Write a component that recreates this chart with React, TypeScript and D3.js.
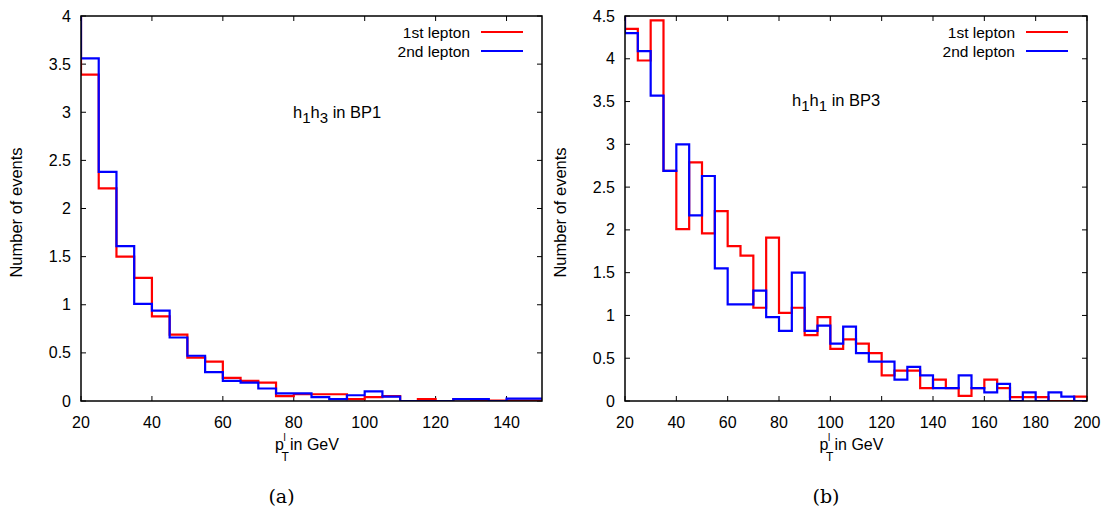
import React from 'react';
import * as d3 from 'd3';

const binWidth = 5;

// panel (a): h1h3 in BP1, bins of 5 GeV starting at 15 GeV (first bin runs off the top)
const leftStart = 15;
const leftLepton1 = [4.6, 3.39, 2.21, 1.5, 1.28, 0.88, 0.69, 0.45, 0.41, 0.24, 0.21, 0.19, 0.05, 0.07, 0.07, 0.07, 0.02, 0.04, 0.05, 0, 0.02, 0, 0.02, 0, 0.005, 0.005, 0.005];
const leftLepton2 = [4.6, 3.56, 2.38, 1.61, 1.01, 0.94, 0.66, 0.47, 0.3, 0.21, 0.19, 0.13, 0.08, 0.08, 0.04, 0.02, 0.06, 0.1, 0.045, 0, 0, 0, 0.02, 0.02, 0, 0.025, 0.025];
const leftXTicks = [20, 40, 60, 80, 100, 120, 140];
const leftYTicks = [0, 0.5, 1, 1.5, 2, 2.5, 3, 3.5, 4];

// panel (b): h1h1 in BP3
const rightStart = 15;
const rightLepton1 = [4.8, 4.35, 3.98, 4.45, 2.69, 2.01, 2.79, 1.96, 2.22, 1.81, 1.7, 1.09, 1.91, 1.03, 1.09, 0.77, 0.98, 0.61, 0.72, 0.67, 0.56, 0.3, 0.355, 0.355, 0.15, 0.25, 0.15, 0.06, 0.15, 0.25, 0.15, 0.045, 0.045, 0.045, 0, 0, 0.05];
const rightLepton2 = [4.8, 4.3, 4.09, 3.57, 2.69, 3.0, 2.17, 2.63, 1.55, 1.13, 1.13, 1.29, 0.98, 0.82, 1.5, 0.82, 0.88, 0.67, 0.87, 0.56, 0.46, 0.46, 0.25, 0.4, 0.3, 0.15, 0.15, 0.3, 0.15, 0.1, 0.2, 0, 0.1, 0, 0.1, 0.05, 0];
const rightXTicks = [20, 40, 60, 80, 100, 120, 140, 160, 180, 200];
const rightYTicks = [0, 0.5, 1, 1.5, 2, 2.5, 3, 3.5, 4, 4.5];

const seriesNames = ['1st lepton', '2nd lepton'];
const seriesColors = ['#ff0000', '#0000ff'];

const font = '"Liberation Sans", Arial, Helvetica, sans-serif';

type PanelProps = {
  id: string;
  left: number;
  right: number;
  top: number;
  bottom: number;
  xDomain: [number, number];
  yDomain: [number, number];
  xTicks: number[];
  yTicks: number[];
  start: number;
  series: number[][];
  tagA: string;
  tagB: string;
  region: string;
  annX: number;
  annY: number;
  caption: string;
};

function Panel(p: PanelProps) {
  const x = d3.scaleLinear().domain(p.xDomain).range([p.left, p.right]);
  const y = d3.scaleLinear().domain(p.yDomain).range([p.bottom, p.top]);
  const line = d3
    .line<[number, number]>()
    .x((d) => x(d[0]))
    .y((d) => y(d[1]))
    .curve(d3.curveStepAfter);

  const cx = (p.left + p.right) / 2;
  const cy = (p.top + p.bottom) / 2;
  const tick = 5;

  return (
    <g>
      <defs>
        <clipPath id={p.id}>
          <rect x={p.left} y={p.top} width={p.right - p.left} height={p.bottom - p.top} />
        </clipPath>
      </defs>

      {/* ticks on all four sides, pointing in */}
      <g stroke="#000" strokeWidth={1}>
        {p.xTicks.map((t) => (
          <g key={'x' + t}>
            <line x1={x(t)} x2={x(t)} y1={p.bottom} y2={p.bottom - tick} />
            <line x1={x(t)} x2={x(t)} y1={p.top} y2={p.top + tick} />
          </g>
        ))}
        {p.yTicks.map((t) => (
          <g key={'y' + t}>
            <line x1={p.left} x2={p.left + tick} y1={y(t)} y2={y(t)} />
            <line x1={p.right} x2={p.right - tick} y1={y(t)} y2={y(t)} />
          </g>
        ))}
      </g>

      <g fontFamily={font} fontSize={16} fill="#000">
        {p.xTicks.map((t) => (
          <text key={'xl' + t} x={x(t)} y={p.bottom + 27} textAnchor="middle">
            {t}
          </text>
        ))}
        {p.yTicks.map((t) => (
          <text key={'yl' + t} x={p.left - 10} y={y(t) + 5.5} textAnchor="end">
            {t}
          </text>
        ))}
      </g>

      {/* histograms */}
      <g clipPath={`url(#${p.id})`} fill="none" strokeWidth={2.2}>
        {p.series.map((vals, i) => {
          const pts: [number, number][] = vals.map((v, j) => [p.start + j * binWidth, v]);
          pts.push([p.start + vals.length * binWidth, vals[vals.length - 1]]);
          return <path key={i} d={line(pts) || ''} stroke={seriesColors[i]} />;
        })}
      </g>

      <rect
        x={p.left}
        y={p.top}
        width={p.right - p.left}
        height={p.bottom - p.top}
        fill="none"
        stroke="#000"
        strokeWidth={1.5}
      />

      {/* legend */}
      <g fontFamily={font} fontSize={15.5}>
        {seriesNames.map((name, i) => (
          <g key={name}>
            <text x={p.right - 72} y={p.top + 22 + i * 19} textAnchor="end">
              {name}
            </text>
            <line
              x1={p.right - 61}
              x2={p.right - 19}
              y1={p.top + 16 + i * 19}
              y2={p.top + 16 + i * 19}
              stroke={seriesColors[i]}
              strokeWidth={2.2}
            />
          </g>
        ))}
      </g>

      {/* annotation */}
      <text x={p.annX} y={p.annY} fontFamily={font} fontSize={16.5}>
        h<tspan dy={5} fontSize={15}>{p.tagA}</tspan>
        <tspan dy={-5}>h</tspan>
        <tspan dy={5} fontSize={15}>{p.tagB}</tspan>
        <tspan dy={-5}>{' in ' + p.region}</tspan>
      </text>

      {/* axis titles */}
      <text
        transform={`translate(${p.left - 59},${cy + 4}) rotate(-90)`}
        textAnchor="middle"
        fontFamily={font}
        fontSize={16.5}
      >
        Number of events
      </text>
      <g fontFamily={font}>
        <text x={cx - 36.5} y={p.bottom + 49} fontSize={16}>p</text>
        <text x={cx - 28} y={p.bottom + 40} fontSize={10}>l</text>
        <text x={cx - 30} y={p.bottom + 60} fontSize={12}>T</text>
        <text x={cx - 21.5} y={p.bottom + 49} fontSize={16}>in GeV</text>
      </g>

      <text
        x={cx - 30}
        y={p.bottom + 102}
        textAnchor="middle"
        fontFamily='"DejaVu Serif", "Liberation Serif", serif'
        fontSize={19}
      >
        {p.caption}
      </text>
    </g>
  );
}

export default function App() {
  return (
    <svg
      width={1104}
      height={512}
      style={{ position: 'absolute', left: 0, top: 0, background: '#fff' }}
    >
      <Panel
        id="clipA"
        left={81}
        right={542}
        top={16}
        bottom={401}
        xDomain={[20, 150]}
        yDomain={[0, 4]}
        xTicks={leftXTicks}
        yTicks={leftYTicks}
        start={leftStart}
        series={[leftLepton1, leftLepton2]}
        tagA="1"
        tagB="3"
        region="BP1"
        annX={293}
        annY={118}
        caption="(a)"
      />
      <Panel
        id="clipB"
        left={625}
        right={1087}
        top={16}
        bottom={401}
        xDomain={[20, 200]}
        yDomain={[0, 4.5]}
        xTicks={rightXTicks}
        yTicks={rightYTicks}
        start={rightStart}
        series={[rightLepton1, rightLepton2]}
        tagA="1"
        tagB="1"
        region="BP3"
        annX={792}
        annY={106}
        caption="(b)"
      />
    </svg>
  );
}
